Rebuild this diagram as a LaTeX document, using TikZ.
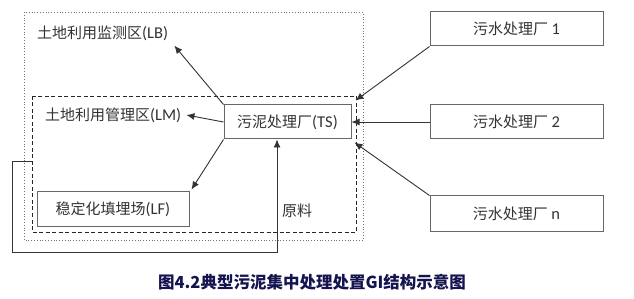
\documentclass[tikz,border=0pt]{standalone}
\usepackage{fontspec}
\setmainfont{Noto Sans CJK SC}
\newfontfamily\lat{Carlito}[Scale=1.1]
\usetikzlibrary{arrows.meta}
\definecolor{capblue}{HTML}{141450}
\begin{document}
\begin{tikzpicture}[x=1pt,y=-1pt,
  font=\fontsize{15}{17}\selectfont,
  box/.style={draw=black!60, line width=1pt, inner sep=0pt, text=black!80},
  lbl/.style={inner sep=2pt, text=black!80},
  arr/.style={draw=black!80, line width=0.9pt, -{Latex[length=8pt,width=7pt]}}]
\useasboundingbox[fill=white] (0,0) rectangle (634,299);
% zones
\draw[black!55, line width=0.8pt, dotted] (24,12) rectangle (363,240);
\draw[black!85, line width=0.9pt, dash pattern=on 4pt off 2.5pt] (32,96) rectangle (356,232);
% nodes
\node[box, minimum width=127pt, minimum height=34pt] (ts) at (287.5,122) {污泥处理厂{\lat(TS)}};
\node[box, minimum width=152pt, minimum height=34pt] (lf) at (113,209) {稳定化填埋场{\lat(LF)}};
\node[lbl, anchor=west] (lb) at (35,33) {土地利用监测区{\lat(LB)}};
\node[lbl, anchor=west] (lm) at (43,115) {土地利用管理区{\lat(LM)}};
\node[lbl] (yl) at (297,211) {原料};
\node[box, minimum width=173pt, minimum height=34pt] (w1) at (516.5,29) {污水处理厂\ {\lat 1}};
\node[box, minimum width=173pt, minimum height=34pt] (w2) at (516.5,122) {污水处理厂\ {\lat 2}};
\node[box, minimum width=173pt, minimum height=35pt] (wn) at (516.5,213.5) {污水处理厂\ {\lat n}};
\coordinate (fb) at (32,161);
% connectors
\draw[arr] (ts.north west) -- ([xshift=4pt,yshift=-3pt]lb.south east);
\draw[arr] (ts.west) -- ([xshift=3pt]lm.east);
\draw[arr] (ts.south west) -- ([xshift=2pt,yshift=2pt]lf.north east);
\draw[arr] (fb) -- ++(-20,0) |- ([xshift=-10.5pt,yshift=-113pt]ts.south) -- ([xshift=-10.5pt]ts.south);
\draw[arr] (w1.south west) -- ([xshift=4pt,yshift=4pt]ts.north east);
\draw[arr] (w2.west) -- (ts.east);
\draw[arr] (wn.north west) -- ([xshift=3pt,yshift=-3pt]ts.south east);
% caption
\node[text=capblue, font=\fontsize{16.5}{18}\selectfont\bfseries] (cap) at (312,282) {图4.2典型污泥集中处理处置GI结构示意图};
\end{tikzpicture}
\end{document}
